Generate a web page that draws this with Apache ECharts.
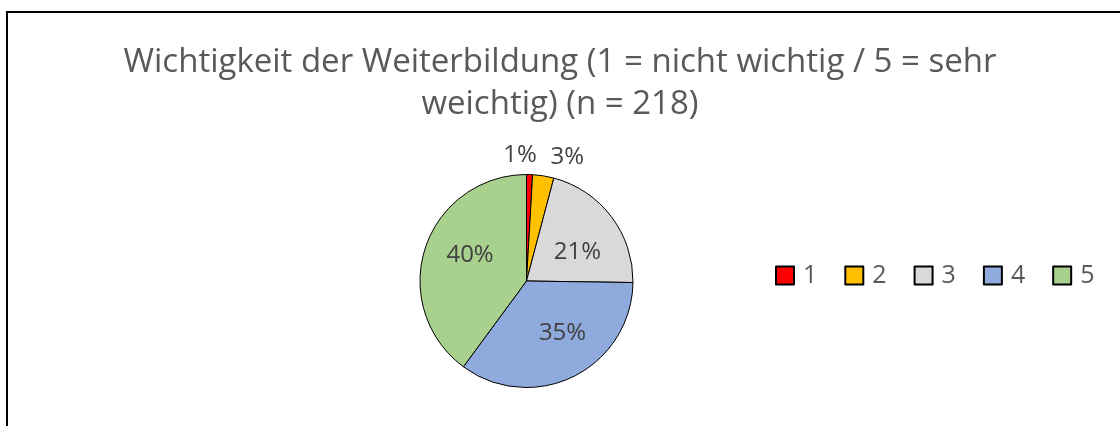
<!DOCTYPE html>
<html lang="de">
<head>
    <meta charset="UTF-8">
    <title>Wichtigkeit der Weiterbildung</title>
    <style>
        html, body { margin: 0; padding: 0; background: #fff; }
        #chart { width: 1120px; height: 426px; }
    </style>
</head>
<body>
    <div id="chart"></div>
    <script type="text/javascript" src="https://cdn.jsdelivr.net/npm/echarts/dist/echarts.min.js"></script>
    <script type="text/javascript">
        // Antworten (n = 218)
        var categories = ['1', '2', '3', '4', '5'];
        var counts = [2, 7, 46, 76, 87];
        var colors = ['#FF0000', '#FFC000', '#D9D9D9', '#8FAADC', '#A9D18E'];
        // Verschiebung der Beschriftungen wie im Excel-Original
        var labelOffsets = [[-8, -70], [32, -68], [6, 5], [11, 2], [-3, -8]];

        var pieData = categories.map(function (c, i) {
            return {
                name: c,
                value: counts[i],
                itemStyle: { color: colors[i] },
                label: { offset: labelOffsets[i] }
            };
        });

        var myChart = echarts.init(document.getElementById('chart'));
        var option = {
            animation: false,
            title: {
                text: 'Wichtigkeit der Weiterbildung (1 = nicht wichtig / 5 = sehr\nweichtig) (n = 218)',
                left: 'center',
                top: 37,
                textStyle: {
                    fontFamily: 'Open Sans',
                    fontSize: 33,
                    fontWeight: 'normal',
                    color: '#595959',
                    lineHeight: 42
                }
            },
            legend: {
                left: 775,
                top: 263,
                padding: 0,
                itemWidth: 18,
                itemHeight: 18,
                itemGap: 27,
                icon: 'rect',
                textStyle: {
                    fontFamily: 'Open Sans',
                    fontSize: 25,
                    color: '#595959',
                    padding: [0, 0, 0, 4]
                }
            },
            graphic: [{
                type: 'rect',
                shape: { x: 7, y: 12, width: 1200, height: 500 },
                style: { fill: 'none', stroke: '#000', lineWidth: 2 },
                silent: true
            }],
            series: [{
                type: 'pie',
                center: [526.5, 281],
                radius: 106.5,
                startAngle: 90,
                clockwise: true,
                percentPrecision: 0,
                data: pieData,
                itemStyle: { borderColor: '#000', borderWidth: 1 },
                label: {
                    show: true,
                    position: 'inside',
                    formatter: '{d}%',
                    fontFamily: 'Open Sans',
                    fontSize: 24,
                    color: '#404040'
                },
                labelLine: { show: false }
            }]
        };
        myChart.setOption(option);
    </script>
</body>
</html>
